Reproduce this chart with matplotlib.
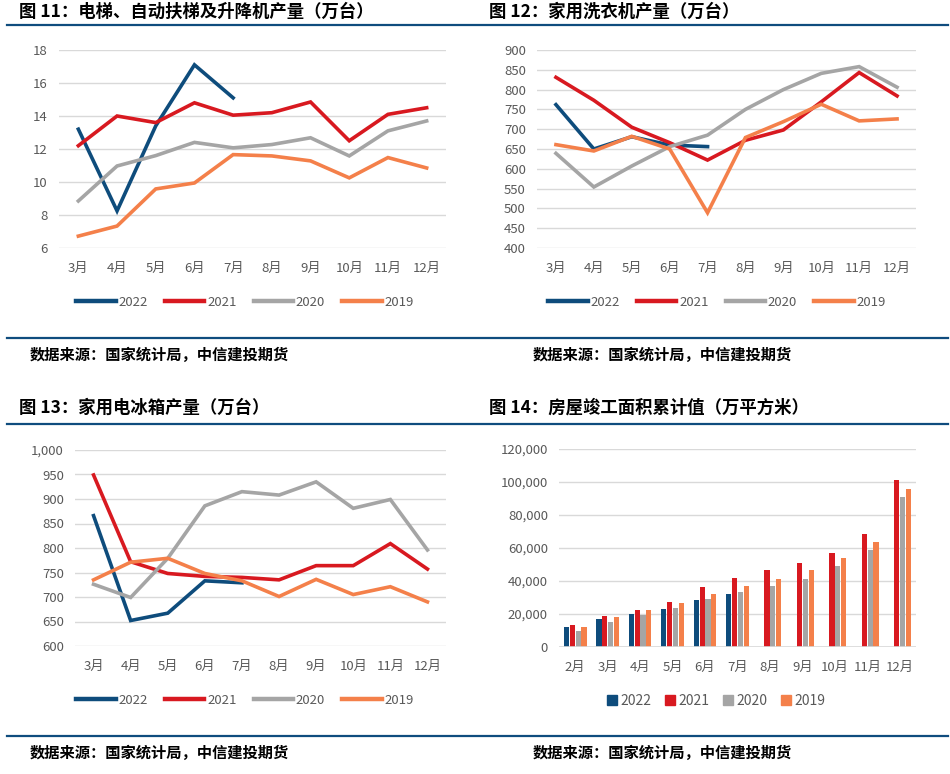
import numpy as np
import matplotlib
matplotlib.use("Agg")
import matplotlib.pyplot as plt
from matplotlib.lines import Line2D
from matplotlib.patches import Patch

plt.rcParams['font.family'] = ['Noto Sans CJK SC', 'DejaVu Sans']

# ---- data ----
years = ['2022', '2021', '2020', '2019']
colors = ['#0E4C7C', '#D81920', '#A5A5A5', '#F4804A']
months_line = ['3月', '4月', '5月', '6月', '7月', '8月', '9月', '10月', '11月', '12月']
months_bar = ['2月'] + months_line

# 图11 电梯、自动扶梯及升降机产量（万台）
elev_2022 = [13.2, 8.25, 13.4, 17.1, 15.1]
elev_2021 = [12.2, 14.0, 13.6, 14.8, 14.05, 14.2, 14.85, 12.5, 14.1, 14.5]
elev_2020 = [8.85, 10.97, 11.6, 12.4, 12.07, 12.27, 12.68, 11.58, 13.1, 13.7]
elev_2019 = [6.72, 7.33, 9.58, 9.94, 11.66, 11.58, 11.28, 10.25, 11.48, 10.85]

# 图12 家用洗衣机产量（万台）
wash_2022 = [762, 650, 681, 660, 656]
wash_2021 = [831, 773, 705, 666, 622, 672, 698, 769, 843, 784]
wash_2020 = [639, 554, 607, 656, 685, 750, 800, 841, 858, 806]
wash_2019 = [661, 645, 682, 650, 489, 679, 719, 763, 721, 726]

# 图13 家用电冰箱产量（万台）
fridge_2022 = [866, 652, 667, 733, 729]
fridge_2021 = [949, 772, 748, 742, 740, 735, 764, 764, 809, 757]
fridge_2020 = [726, 699, 779, 886, 915, 908, 935, 881, 899, 796]
fridge_2019 = [735, 771, 779, 748, 733, 701, 736, 705, 721, 690]

# 图14 房屋竣工面积累计值（万平方米）
area_2022 = [12300, 17200, 20000, 23000, 28500, 32100]
area_2021 = [13300, 18800, 22400, 27300, 36400, 41800, 46700, 50900, 57000, 68500, 101200]
area_2020 = [9700, 15200, 19600, 23600, 29100, 33300, 37000, 41200, 49100, 58800, 90900]
area_2019 = [12100, 18200, 22400, 26700, 32100, 37000, 41200, 46700, 53900, 63600, 95800]

W, H = 950, 774
fig = plt.figure(figsize=(9.5, 7.74), dpi=100)

tick_color = '#595959'
grid_color = '#D9D9D9'
line_blue = '#0F4C7E'


def rect(l, t, r, b):
    return [l / W, 1 - b / H, (r - l) / W, (b - t) / H]


def style_axes(ax, labels, ylim, yticks, fmt=None):
    ax.set_xlim(-0.5, len(labels) - 0.5)
    ax.set_ylim(*ylim)
    ax.set_xticks(range(len(labels)))
    ax.set_xticklabels(labels)
    ax.set_yticks(yticks)
    if fmt:
        ax.set_yticklabels([fmt(v) for v in yticks])
    for s in ax.spines.values():
        s.set_visible(False)
    ax.grid(axis='y', color=grid_color, lw=1)
    ax.set_axisbelow(True)
    ax.tick_params(length=0, colors=tick_color, labelsize=9.5)
    ax.tick_params(axis='x', pad=10)
    ax.tick_params(axis='y', pad=8)


def line_panel(rc, series, ylim, yticks, legend_xy, fmt=None):
    ax = fig.add_axes(rect(*rc))
    x = np.arange(len(months_line))
    for vals, c in zip(series, colors):
        ax.plot(x[:len(vals)], vals, color=c, lw=2.6, solid_joinstyle='miter')
    style_axes(ax, months_line, ylim, yticks, fmt)
    handles = [Line2D([], [], color=c, lw=3.2) for c in colors]
    fig.legend(handles, years, loc='center', bbox_to_anchor=(legend_xy[0] / W, 1 - legend_xy[1] / H),
               ncol=4, frameon=False, handlelength=3.0, handletextpad=0.2, columnspacing=1.3,
               fontsize=9.5, labelcolor=tick_color)
    return ax


line_panel((59, 50, 446, 248), [elev_2022, elev_2021, elev_2020, elev_2019],
           (6, 18), range(6, 19, 2), (245, 302))
line_panel((537, 50, 916, 248), [wash_2022, wash_2021, wash_2020, wash_2019],
           (400, 900), range(400, 901, 50), (717, 302))
line_panel((75, 450, 446, 646), [fridge_2022, fridge_2021, fridge_2020, fridge_2019],
           (600, 1000), range(600, 1001, 50), (245, 700), fmt=lambda v: f'{v:,}')

# bar panel
ax4 = fig.add_axes(rect(559, 449, 916, 647))
xb = np.arange(len(months_bar))
bw, step = 0.16, 0.18
for i, (vals, c) in enumerate(zip([area_2022, area_2021, area_2020, area_2019], colors)):
    ax4.bar(xb[:len(vals)] + (i - 1.5) * step, vals, width=bw, color=c)
style_axes(ax4, months_bar, (0, 120000), range(0, 120001, 20000), fmt=lambda v: f'{v:,}')
ax4.axhline(0, color=grid_color, lw=1.2)
ax4.tick_params(axis='x', pad=10)
handles = [Patch(color=c) for c in colors]
fig.legend(handles, years, loc='center', bbox_to_anchor=(716 / W, 1 - 701 / H), ncol=4,
           frameon=False, handlelength=0.7, handleheight=0.7, handletextpad=0.25,
           columnspacing=1.0, fontsize=10, labelcolor=tick_color)

# titles
titles = [
    (19, 12, '图 11：电梯、自动扶梯及升降机产量（万台）'),
    (489, 12, '图 12：家用洗衣机产量（万台）'),
    (19, 408, '图 13：家用电冰箱产量（万台）'),
    (489, 408, '图 14：房屋竣工面积累计值（万平方米）'),
]
for x, y, t in titles:
    fig.text(x / W, 1 - y / H, t, fontsize=12.5, fontweight='bold', va='center', ha='left')

# separators
for y in [25, 338, 424, 736]:
    fig.add_artist(Line2D([7 / W, 948 / W], [1 - y / H, 1 - y / H], color=line_blue, lw=1.6))

# sources
for x, y in [(30, 355), (533, 355), (30, 753), (533, 753)]:
    fig.text(x / W, 1 - y / H, '数据来源：国家统计局，中信建投期货', fontsize=11,
             fontweight='bold', style='italic', va='center', ha='left')

fig.savefig('out.png', dpi=100)
